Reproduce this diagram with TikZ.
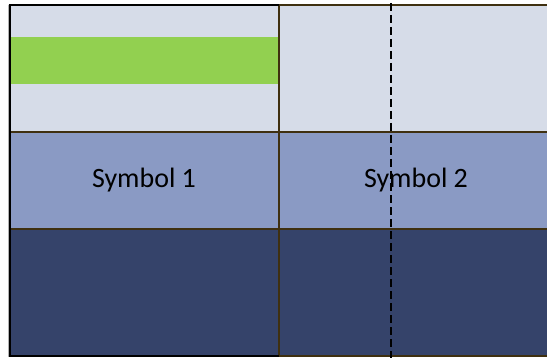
\documentclass[tikz,border=0pt]{standalone}
\usepackage{fontspec}
\setmainfont{Carlito}
\definecolor{lightrow}{HTML}{D6DCE8}
\definecolor{midrow}{HTML}{8A9AC4}
\definecolor{darkrow}{HTML}{35436A}
\definecolor{gridline}{HTML}{3F3010}
\definecolor{barcolor}{HTML}{92D050}
\begin{document}
\begin{tikzpicture}[x=1pt,y=-1pt,
  cell/.style={line width=2pt,draw=gridline},
  label/.style={font=\fontsize{28}{32}\selectfont,text=black},
  cutline/.style={line width=2pt,dash pattern=on 8pt off 4pt}]
\useasboundingbox (0,0) rectangle (547,361);
% fills
\fill[lightrow] (9,5) rectangle (560,132.5);
\fill[midrow] (9,132.5) rectangle (560,228.5);
\fill[darkrow] (9,228.5) rectangle (560,356);
\fill[barcolor] (10,37) rectangle (279,84);
% right box grid (brown)
\draw[cell] (279,5) -- (560,5);
\draw[cell] (279,356) -- (560,356);
\draw[cell] (279,5) -- (279,356);
\draw[cell] (9,132.5) -- (560,132.5);
\draw[cell] (9,228.5) -- (560,228.5);
% left box border (black)
\draw[gray!60,line width=1pt] (8,5) -- (8,357);
\draw[black,line width=2pt] (9.5,5) -- (9.5,357);
\draw[black,line width=2pt] (8.5,5) -- (279,5);
\draw[black,line width=2pt] (8.5,356) -- (279,356);
% labels
\node[label] (s1) at (144,180) {Symbol 1};
\node[label] (s2) at (416,180) {Symbol 2};
% dashed line
\coordinate (dtop) at (391,3);
\coordinate (dbot) at (391,358);
\draw[cutline] (dtop) -- (dbot);
\end{tikzpicture}
\end{document}
